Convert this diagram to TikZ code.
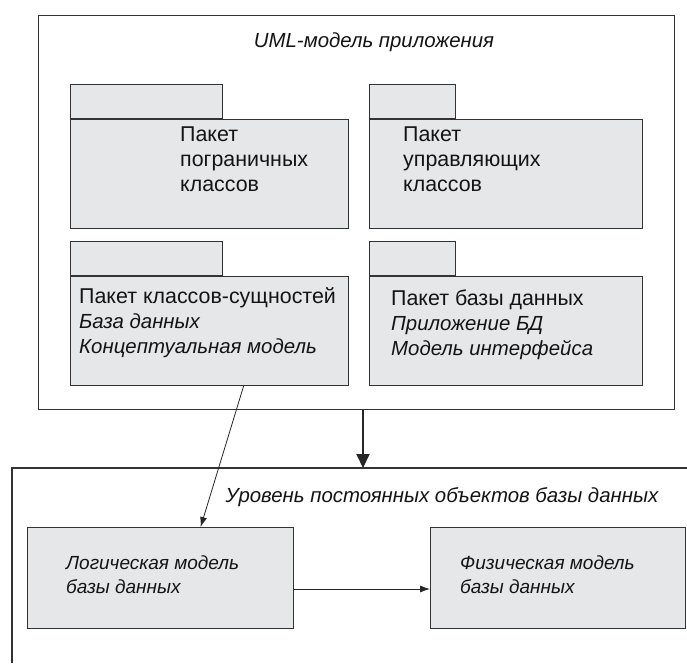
\documentclass[tikz,border=0pt]{standalone}
\usepackage{fontspec}
\setmainfont{Liberation Sans}
\usetikzlibrary{arrows.meta,calc}
\definecolor{pkgfill}{HTML}{E6E7E8}
\definecolor{ink}{HTML}{333333}
\tikzset{
  frame/.style={draw=ink, line width=1.1pt},
  pkgbody/.style={draw=ink, line width=1.1pt, fill=pkgfill, anchor=north west, inner sep=0pt},
  pkgtab/.style={draw=ink, line width=1.1pt, fill=pkgfill, anchor=south west, inner sep=0pt, minimum height=34pt},
  lbl/.style={anchor=west, inner sep=0pt, align=left, text=black!92, font=\fontsize{21.4}{25}\selectfont},
  ilbl/.style={lbl, font=\fontsize{20.4}{25}\selectfont\itshape},
  boxlbl/.style={lbl, font=\fontsize{19}{24}\selectfont\itshape},
  thin/.style={draw=black!85, line width=0.8pt, -{Latex[length=10pt,width=7pt]}},
  thick/.style={draw=black!85, line width=2pt, -{Triangle[length=14pt,width=13pt]}}
}
\begin{document}
\begin{tikzpicture}[x=1pt,y=-1pt]
\useasboundingbox (0,0) rectangle (687,663);

% application model frame
\node[frame, anchor=north west, inner sep=0pt, minimum width=636pt, minimum height=394pt] (app) at (38,15) {};
\node[ilbl, anchor=center] (apptitle) at (374,42) {UML-модель приложения};

% packages
\node[pkgbody, minimum width=278pt, minimum height=109pt] (p1) at (70,119) {};
\node[pkgtab, minimum width=152pt] (p1tab) at (p1.north west) {};
\node[pkgbody, minimum width=273pt, minimum height=109pt] (p2) at (369,119) {};
\node[pkgtab, minimum width=86pt] (p2tab) at (p2.north west) {};
\node[pkgbody, minimum width=278pt, minimum height=109pt] (p3) at (70,276) {};
\node[pkgtab, minimum width=152pt] (p3tab) at (p3.north west) {};
\node[pkgbody, minimum width=273pt, minimum height=109pt] (p4) at (369,276) {};
\node[pkgtab, minimum width=86pt] (p4tab) at (p4.north west) {};

\node[lbl, anchor=north west] (p1txt) at (180,127) {Пакет\\пограничных\\классов};
\node[lbl, anchor=north west] (p2txt) at (403,127) {Пакет\\управляющих\\классов};
\node[lbl, anchor=north west] (p3txt) at (79,287) {Пакет классов-сущностей\\{\fontsize{20.4}{25}\selectfont\itshape База данных}\\{\fontsize{20.4}{25}\selectfont\itshape Концептуальная модель}};
\node[lbl, anchor=north west] (p4txt) at (391,290) {Пакет базы данных\\{\fontsize{20.4}{25}\selectfont\itshape Приложение БД}\\{\fontsize{20.4}{25}\selectfont\itshape Модель интерфейса}};

% persistent objects level (open frame)
\coordinate (lvl) at (12,468);
\coordinate (lvlend) at (687,663);
\draw[frame] (lvl |- lvlend) -- (lvl) -- (lvl -| lvlend);
\node[ilbl, anchor=center] (lvltitle) at (442,497) {Уровень постоянных объектов базы данных};

\node[pkgbody, minimum width=266pt, minimum height=101pt] (logic) at (27,527) {};
\node[pkgbody, minimum width=255pt, minimum height=101pt] (phys) at (430,527) {};
\node[boxlbl, anchor=north west] (logictxt) at (66,556) {Логическая модель\\базы данных};
\node[boxlbl, anchor=north west] (phystxt) at (460,556) {Физическая модель\\базы данных};

% connectors
\coordinate (ax) at (363,0);
\draw[thick] (app.south -| ax) -- (lvl -| ax);
\draw[thin] ($(p3.south west)!0.622!(p3.south east)$) -- ($(logic.north west)!0.65!(logic.north east)$);
\coordinate (hy) at (0,589);
\draw[thin] (logic.east |- hy) -- (phys.west |- hy);
\end{tikzpicture}
\end{document}
